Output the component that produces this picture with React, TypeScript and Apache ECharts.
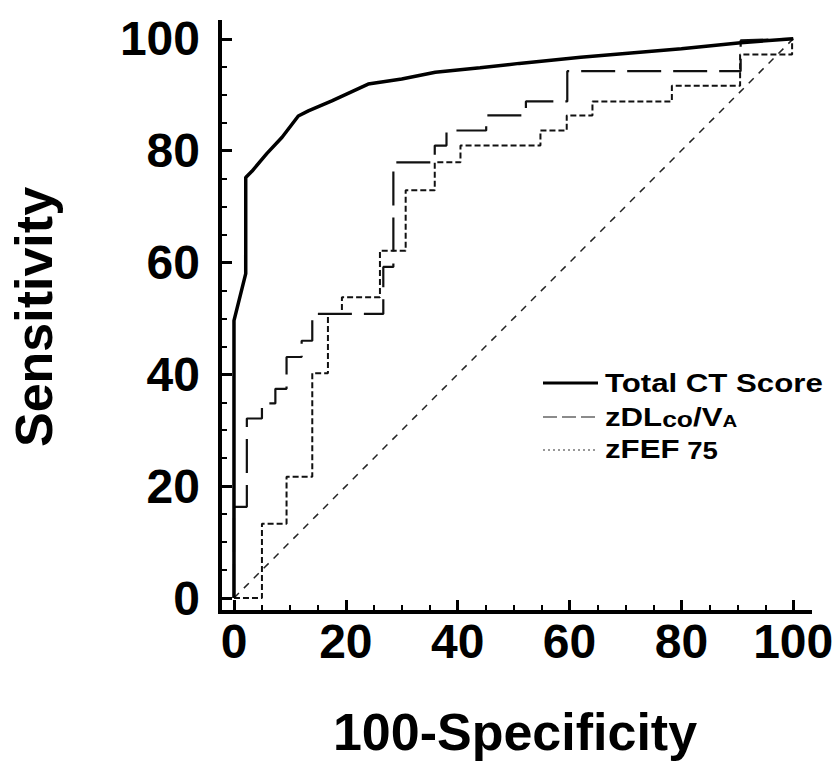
import React, { useEffect, useRef } from "react";
import * as echarts from "echarts";

// ROC curve vertices: 100-Specificity (x) and Sensitivity (y)
const totalCtFpr = [0, 0, 2.1, 2.1, 3.2, 5.9, 8.6, 11.5, 13.3, 17.5, 24, 30, 36, 44, 51, 62, 80, 90.6, 100];
const totalCtSens = [0, 49.6, 58, 75.2, 76.3, 79.5, 82.4, 86.2, 87.1, 88.9, 91.9, 92.8, 94.0, 94.8, 95.6, 96.7, 98.2, 99.3, 100];

const dlcoFpr = [0, 0, 2.3, 2.3, 5.0, 5.0, 7.4, 7.4, 9.4, 9.4, 12.1, 12.1, 14.0, 14.0, 26.7, 26.7, 28.5, 28.5, 35.9, 35.9, 38.0, 38.0, 45.1, 45.1, 52.2, 52.2, 59.6, 59.6, 90.6, 90.6, 100];
const dlcoSens = [0, 16.3, 16.3, 32.1, 32.1, 34.8, 34.8, 37.4, 37.4, 43.1, 43.1, 46.0, 46.0, 50.8, 50.8, 59.2, 59.2, 77.9, 77.9, 80.9, 80.9, 83.6, 83.6, 86.3, 86.3, 88.8, 88.8, 94.2, 94.2, 99.7, 100];

const fefFpr = [0, 5.0, 5.0, 9.4, 9.4, 14.0, 14.0, 16.8, 16.8, 19.3, 19.3, 26.1, 26.1, 30.7, 30.7, 35.9, 35.9, 40.5, 40.5, 54.8, 54.8, 59.5, 59.5, 64.1, 64.1, 78.3, 78.3, 90.5, 90.5, 99.8, 99.8];
const fefSens = [0, 0, 13.3, 13.3, 21.7, 21.7, 40.2, 40.2, 50.8, 50.8, 53.8, 53.8, 62.1, 62.1, 72.9, 72.9, 77.9, 77.9, 80.9, 80.9, 83.6, 83.6, 86.3, 86.3, 88.8, 88.8, 91.6, 91.6, 97.2, 97.2, 100];

const chanceFpr = [0, 100];
const chanceSens = [0, 100];

const majorTicks = [0, 20, 40, 60, 80, 100];
const minorTicks = [0, 5, 10, 15, 20, 25, 30, 35, 40, 45, 50, 55, 60, 65, 70, 75, 80, 85, 90, 95, 100];

const seriesNames = ["Total CT Score", "zDLco/VA", "zFEF75", "Reference"];

const FONT = "'Liberation Sans', Arial, Helvetica, sans-serif";

const pair = (xs: number[], ys: number[]) => xs.map((x, i) => [x, ys[i]]);

export default function App() {
  const ref = useRef<HTMLDivElement>(null);

  useEffect(() => {
    if (!ref.current) return;
    const chart = echarts.init(ref.current, undefined, { renderer: "svg" });

    const labelStyle = {
      fontSize: 48,
      fontWeight: "bold" as const,
      color: "#000",
      fontFamily: FONT,
    };
    const nameStyle = {
      fontSize: 52,
      fontWeight: "bold" as const,
      color: "#000",
      fontFamily: FONT,
    };

    const majorAxis = (extra: any) => ({
      type: "value",
      min: -2.5,
      max: 103,
      axisLine: { show: true, onZero: false, lineStyle: { color: "#000", width: 4, cap: "square" } },
      axisTick: { show: true, inside: true, length: 12, customValues: majorTicks, lineStyle: { color: "#000", width: 3 } },
      axisLabel: { ...labelStyle, customValues: majorTicks },
      splitLine: { show: false },
      ...extra,
    });
    const minorAxis = (extra: any) => ({
      type: "value",
      min: -2.5,
      max: 103,
      axisLine: { show: false, onZero: false },
      axisTick: { show: true, inside: true, length: 7, customValues: minorTicks, lineStyle: { color: "#000", width: 2 } },
      axisLabel: { show: false },
      splitLine: { show: false },
      ...extra,
    });

    const legendX = 543;
    const legendLineEnd = 598;
    const legendTextX = 605;

    chart.setOption({
      animation: false,
      backgroundColor: "#fff",
      grid: { left: 218, top: 22, width: 592, height: 590, containLabel: false },
      xAxis: [
        majorAxis({
          position: "bottom",
          axisLabel: { ...labelStyle, customValues: majorTicks, margin: 5 },
          name: "100-Specificity",
          nameLocation: "middle",
          nameGap: 94,
          nameTextStyle: nameStyle,
        }),
        minorAxis({ position: "bottom" }),
      ],
      yAxis: [
        majorAxis({
          position: "left",
          axisLabel: { ...labelStyle, customValues: majorTicks, margin: 20 },
          name: "Sensitivity",
          nameLocation: "middle",
          nameGap: 160,
          nameRotate: 90,
          nameTextStyle: nameStyle,
        }),
        minorAxis({ position: "left" }),
      ],
      series: [
        {
          type: "line",
          name: seriesNames[3],
          data: pair(chanceFpr, chanceSens),
          symbol: "none",
          lineStyle: { color: "#222", width: 1.5, type: [7, 7] },
          z: 2,
        },
        {
          type: "line",
          name: seriesNames[2],
          data: pair(fefFpr, fefSens),
          symbol: "none",
          lineStyle: { color: "#111", width: 2, type: [6, 3] },
          z: 3,
        },
        {
          type: "line",
          name: seriesNames[1],
          data: pair(dlcoFpr, dlcoSens),
          symbol: "none",
          lineStyle: { color: "#111", width: 2.2, type: [34, 12] },
          z: 4,
        },
        {
          type: "line",
          name: seriesNames[0],
          data: pair(totalCtFpr, totalCtSens),
          symbol: "none",
          lineStyle: { color: "#000", width: 3.5 },
          z: 5,
        },
      ],
      graphic: [
        {
          type: "line",
          shape: { x1: legendX, y1: 383, x2: legendLineEnd, y2: 383 },
          style: { stroke: "#000", lineWidth: 3 },
        },
        {
          type: "text",
          x: legendTextX,
          y: 383,
          scaleX: 1.2,
          style: {
            text: "Total CT Score",
            font: `bold 26px ${FONT}`,
            fill: "#000",
            verticalAlign: "middle",
          },
        },
        {
          type: "line",
          shape: { x1: legendX, y1: 417, x2: legendLineEnd, y2: 417 },
          style: { stroke: "#666", lineWidth: 1.5, lineDash: [14, 5] },
        },
        {
          type: "text",
          x: legendTextX,
          y: 430,
          scaleX: 1.2,
          style: {
            text: "{b|zDL}{c|co}{b|/V}{a|A}",
            fill: "#000",
            verticalAlign: "bottom",
            rich: {
              b: { fontSize: 26, fontWeight: "bold", fontFamily: FONT, fill: "#000", verticalAlign: "bottom", lineHeight: 26 },
              c: { fontSize: 22, fontWeight: "bold", fontFamily: FONT, fill: "#000", verticalAlign: "bottom", lineHeight: 22 },
              a: { fontSize: 17, fontWeight: "bold", fontFamily: FONT, fill: "#000", verticalAlign: "bottom", lineHeight: 17 },
            },
          },
        },
        {
          type: "line",
          shape: { x1: legendX, y1: 450, x2: legendLineEnd, y2: 450 },
          style: { stroke: "#777", lineWidth: 1.5, lineDash: [2, 3] },
        },
        {
          type: "text",
          x: legendTextX,
          y: 462,
          scaleX: 1.2,
          style: {
            text: "{b|zFEF}{n| 75}",
            fill: "#000",
            verticalAlign: "bottom",
            rich: {
              b: { fontSize: 26, fontWeight: "bold", fontFamily: FONT, fill: "#000", verticalAlign: "bottom", lineHeight: 26 },
              n: { fontSize: 23, fontWeight: "bold", fontFamily: FONT, fill: "#000", verticalAlign: "bottom", lineHeight: 23 },
            },
          },
        },
      ],
    });

    return () => chart.dispose();
  }, []);

  return (
    <div
      ref={ref}
      style={{ position: "absolute", left: 0, top: 0, width: 838, height: 767, background: "#fff" }}
    />
  );
}
